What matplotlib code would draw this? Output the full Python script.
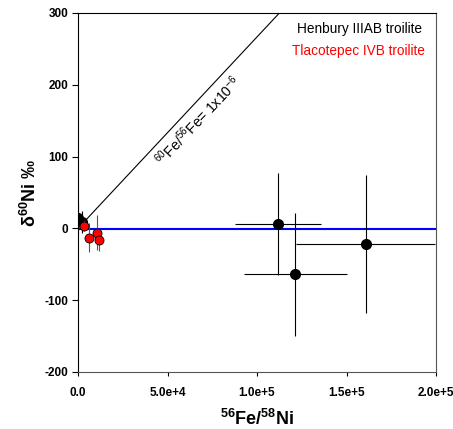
import matplotlib
matplotlib.use("Agg")
import matplotlib.pyplot as plt
import numpy as np

plt.rcParams["font.family"] = ["Liberation Sans", "DejaVu Sans"]
plt.rcParams["axes.unicode_minus"] = False
plt.rcParams["mathtext.fontset"] = "custom"
plt.rcParams["mathtext.rm"] = "Liberation Sans"
plt.rcParams["mathtext.it"] = "Liberation Sans"
plt.rcParams["mathtext.bf"] = "Liberation Sans:bold"

# Henbury IIIAB troilite
hen_x = [200, 2000, 111500, 121500, 160700]
hen_y = [14, 9, 6, -64, -22]
hen_xerr = [0, 0, 24000, 29000, 39000]
hen_yerr = [22, 15, 71, 86, 96]

# Tlacotepec IVB troilite
tla_x = [3400, 6300, 10400, 11700]
tla_y = [4, -13, -6, -16]
tla_xerr = [0, 0, 0, 0]
tla_yerr = [8, 20, 24, 15]

# reference lines
mean_y = -1
slope_line = 300 / 112500  # 60Fe/56Fe = 1e-6

fig = plt.figure(figsize=(4.53, 4.29), dpi=100)
ax = fig.add_axes([0.1722, 0.1329, 0.7903, 0.8368])

xs = np.array([0, 2e5])
ax.plot(xs, slope_line * xs, color="black", lw=0.8, zorder=1)
ax.plot(xs, [mean_y, mean_y], color="blue", lw=1.5, zorder=2)

ax.errorbar(hen_x, hen_y, xerr=hen_xerr, yerr=hen_yerr, fmt="o", color="black",
            ecolor="black", elinewidth=0.8, capsize=0, ms=7, mec="black", zorder=3)
ax.errorbar(tla_x, tla_y, xerr=tla_xerr, yerr=tla_yerr, fmt="o", color="red",
            ecolor="#555555", elinewidth=0.8, capsize=0, ms=6.5, mec="black",
            mew=0.6, zorder=4)

ax.text(67000, 150, r"$^{60}$Fe/$^{56}$Fe= 1x10$^{-6}$", rotation=46.5,
        ha="center", va="center", fontsize=10.2, rotation_mode="anchor")

ax.text(0.962, 0.955, "Henbury IIIAB troilite", transform=ax.transAxes,
        ha="right", va="center", fontsize=9.8, color="black")
ax.text(0.968, 0.893, "Tlacotepec IVB troilite", transform=ax.transAxes,
        ha="right", va="center", fontsize=9.8, color="red")

ax.set_xlim(0, 2e5)
ax.set_ylim(-200, 300)
ax.set_xticks([0, 5e4, 1e5, 1.5e5, 2e5])
ax.set_xticklabels(["0.0", "5.0e+4", "1.0e+5", "1.5e+5", "2.0e+5"])
ax.set_yticks([-200, -100, 0, 100, 200, 300])
ax.tick_params(axis="y", direction="out", length=4, width=0.8, labelsize=8.5, pad=3)
ax.tick_params(axis="x", direction="out", length=3, width=0.8, labelsize=8.5, pad=8)
for lab in ax.get_xticklabels() + ax.get_yticklabels():
    lab.set_fontweight("bold")
for s in ax.spines.values():
    s.set_linewidth(0.8)
ax.spines["right"].set_color("#555555")
ax.spines["bottom"].set_color("#555555")

ax.set_xlabel(r"$\mathbf{^{56}Fe/^{58}Ni}$", fontsize=13, labelpad=7)
ax.set_ylabel(r"$\mathbf{\delta^{60}Ni}$ ‰", fontsize=13, fontweight="bold", labelpad=3)

fig.savefig("out.png", dpi=100)
